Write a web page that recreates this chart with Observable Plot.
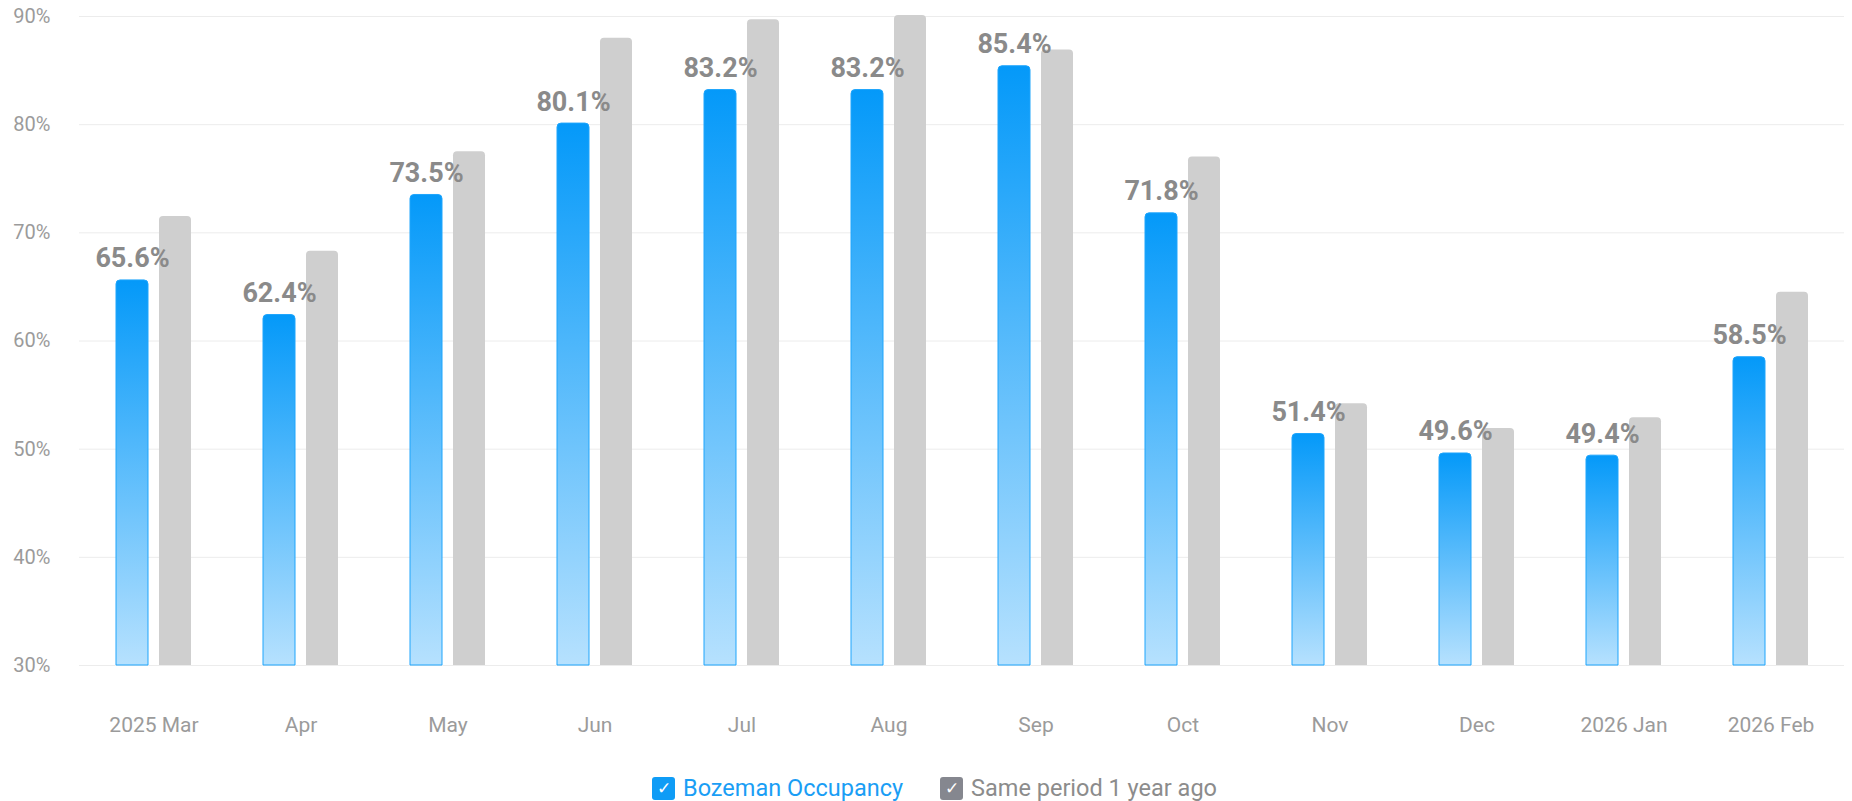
<!DOCTYPE html>
<html>
<head>
<meta charset="utf-8">
<script src="https://cdn.jsdelivr.net/npm/d3@7"></script>
<script src="https://cdn.jsdelivr.net/npm/@observablehq/plot@0.6"></script>
<style>
  html, body { margin: 0; padding: 0; background: #fff; overflow: hidden; }
  body { width: 1852px; height: 801px; font-family: Roboto, "Noto Sans", sans-serif; }
  #chart svg { display: block; }
  #legend { display: flex; align-items: center; height: 32px; padding-top: 3px; padding-left: 652px; font-size: 23.5px; }
  .item { display: flex; align-items: center; margin-right: 37px; }
  .box { width: 23px; height: 23px; border-radius: 3px; color: #fff; font-size: 17px; line-height: 23px; text-align: center; margin-right: 8px; }
</style>
</head>
<body>
<div id="chart"></div>
<div id="legend"></div>
<script>
const months = ["2025 Mar", "Apr", "May", "Jun", "Jul", "Aug", "Sep", "Oct", "Nov", "Dec", "2026 Jan", "2026 Feb"];
const occupancy = [65.6, 62.4, 73.5, 80.1, 83.2, 83.2, 85.4, 71.8, 51.4, 49.6, 49.4, 58.5];
const lastYear = [71.5, 68.3, 77.5, 88.0, 89.7, 90.1, 86.9, 77.0, 54.2, 51.9, 52.9, 64.5];
const series = ["Bozeman Occupancy", "Same period 1 year ago"];
const yTicks = [30, 40, 50, 60, 70, 80, 90];

const blueRows = months.map((m, i) => ({month: m, series: series[0], value: occupancy[i]}));
const grayRows = months.map((m, i) => ({month: m, series: series[1], value: lastYear[i]}));

// bar width 32px inside a ~147px band, offset half a bar + half gap from band centre
const barInset = 57.5;
const offset = 21.5;

const svg = Plot.plot({
  width: 1852,
  height: 769,
  marginLeft: 79,
  marginRight: 8,
  marginTop: 16,
  marginBottom: 104,
  style: {fontFamily: "Roboto, sans-serif", fontSize: "20px", color: "#9b9b9b", background: "#fff"},
  x: {domain: months, padding: 0, label: null, tickSize: 0, tickPadding: 52},
  y: {domain: [yTicks[0], yTicks[yTicks.length - 1]], ticks: yTicks, tickFormat: d => d + "%", tickSize: 0, tickPadding: 29, label: null},
  marks: [
    Plot.ruleY(yTicks, {stroke: "#ececec", strokeWidth: 1}),
    Plot.barY(grayRows, {x: "month", y1: yTicks[0], y2: "value", fill: "#cfcfcf", insetLeft: barInset, insetRight: barInset, dx: offset, ry1: 4}),
    Plot.barY(blueRows, {x: "month", y1: yTicks[0], y2: "value", fill: "url(#blueGrad)", stroke: "#1ea5fc", strokeWidth: 1, insetLeft: barInset, insetRight: barInset, dx: -offset, ry1: 4}),
    Plot.text(blueRows, {x: "month", y: "value", text: d => d.value.toFixed(1) + "%", lineAnchor: "bottom", dx: -offset, dy: -13, fontSize: 27, fontWeight: "bold", fill: "#8a8a8a"})
  ]
});

// slightly larger month labels than the percentage ticks
d3.select(svg).selectAll("g[aria-label='x-axis tick label'] text, g[aria-label='x-axis tick label']").style("font-size", "21px");

const defs = d3.select(svg).insert("defs", ":first-child");
const grad = defs.append("linearGradient").attr("id", "blueGrad").attr("x1", 0).attr("y1", 0).attr("x2", 0).attr("y2", 1);
grad.append("stop").attr("offset", "0%").attr("stop-color", "#0499f9");
grad.append("stop").attr("offset", "100%").attr("stop-color", "#b6e1fe");

document.getElementById("chart").appendChild(svg);

const legendColors = ["#0f9cf6", "#85878f"];
const legendText = ["#1a9ef5", "#8c8c8c"];
const legend = d3.select("#legend");
series.forEach((s, i) => {
  const item = legend.append("div").attr("class", "item");
  item.append("div").attr("class", "box").style("background", legendColors[i]).text("✓");
  item.append("span").style("color", legendText[i]).text(s);
});
</script>
</body>
</html>
